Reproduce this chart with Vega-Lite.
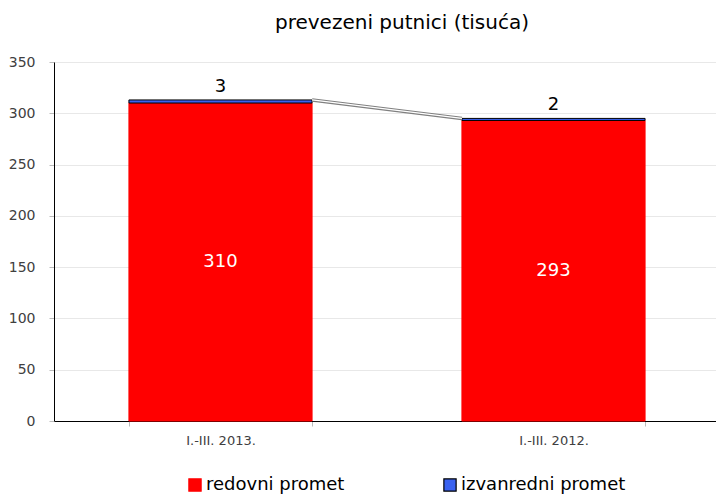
{
  "$schema": "https://vega.github.io/schema/vega-lite/v6.json",
  "autosize": "none",
  "width": 666,
  "height": 359,
  "padding": {"left": 54, "top": 62, "right": 0, "bottom": 76},
  "background": "white",
  "title": {"text": "prevezeni putnici (tisuća)", "fontSize": 20, "font": "DejaVu Sans", "fontWeight": "normal", "color": "#000000", "offset": 22, "dx": 15},
  "config": {"view": {"stroke": null}, "font": "DejaVu Sans"},
  "data": {"values": [
    {"period": "I.-III. 2013.", "type": "redovni  promet", "value": 310},
    {"period": "I.-III. 2013.", "type": "izvanredni promet", "value": 3},
    {"period": "I.-III. 2012.", "type": "redovni  promet", "value": 293},
    {"period": "I.-III. 2012.", "type": "izvanredni promet", "value": 2}
  ]},
  "encoding": {
    "x": {"field": "period", "type": "nominal", "sort": ["I.-III. 2013.", "I.-III. 2012."],
      "scale": {"paddingInner": 0.45, "paddingOuter": 0.225},
      "axis": {"title": null, "labelAngle": 0, "labelFontSize": 13, "labelColor": "#404040", "labelPadding": 8, "domainColor": "#000000", "tickBand": "extent", "tickColor": "#bbbbbb", "tickSize": 5, "grid": false}}
  },
  "layer": [
    {
      "mark": {"type": "bar", "strokeWidth": 1},
      "encoding": {
        "y": {"field": "value", "type": "quantitative", "aggregate": "sum", "stack": "zero",
          "scale": {"domain": [0, 350], "nice": false},
          "axis": {"title": null, "values": [0, 50, 100, 150, 200, 250, 300, 350], "labelFontSize": 14, "labelColor": "#404040", "labelPadding": 14, "tickSize": 5, "tickColor": "#bbbbbb", "domainColor": "#000000", "gridColor": "#e8e8e8"}},
        "color": {"field": "type", "type": "nominal", "title": null,
          "scale": {"domain": ["redovni  promet", "izvanredni promet"], "range": ["#ff0000", "#3a62f0"]},
          "legend": {"orient": "none", "legendX": 132, "legendY": 414, "direction": "horizontal", "columns": 2, "symbolType": "square", "symbolSize": 150, "symbolStrokeWidth": 1.2, "labelFontSize": 18, "labelColor": "#000000", "labelOffset": 2, "columnPadding": 90, "labelLimit": 300}},
        "stroke": {"field": "type", "type": "nominal", "title": null,
          "scale": {"domain": ["redovni  promet", "izvanredni promet"], "range": ["#ff0000", "#000000"]}},
        "order": {"field": "type", "sort": "descending"}
      }
    },
    {
      "transform": [
        {"stack": "value", "groupby": ["period"], "sort": [{"field": "type", "order": "descending"}], "as": ["v0", "v1"]},
        {"filter": "datum.type === 'redovni  promet'"},
        {"fold": ["v0", "v1"], "as": ["key", "val"]}
      ],
      "mark": {"type": "text", "color": "white", "fontSize": 18, "baseline": "middle"},
      "encoding": {
        "y": {"field": "val", "type": "quantitative", "aggregate": "mean"},
        "text": {"field": "value", "type": "quantitative", "aggregate": "max"}
      }
    },
    {
      "transform": [
        {"stack": "value", "groupby": ["period"], "sort": [{"field": "type", "order": "descending"}], "as": ["v0", "v1"]},
        {"filter": "datum.type === 'izvanredni promet'"}
      ],
      "mark": {"type": "text", "color": "black", "fontSize": 18, "baseline": "bottom", "dy": -4},
      "encoding": {
        "y": {"field": "v1", "type": "quantitative"},
        "text": {"field": "value", "type": "quantitative"}
      }
    },
    {
      "transform": [
        {"stack": "value", "groupby": ["period"], "sort": [{"field": "type", "order": "descending"}], "as": ["v0", "v1"]},
        {"filter": "datum.type === 'izvanredni promet'"},
        {"pivot": "period", "value": "v1"}
      ],
      "layer": [
        {"mark": {"type": "rule", "color": "#808080", "strokeWidth": 3.5}},
        {"mark": {"type": "rule", "color": "#ffffff", "strokeWidth": 1.3}}
      ],
      "encoding": {
        "x": {"datum": "I.-III. 2013.", "bandPosition": 1},
        "x2": {"datum": "I.-III. 2012.", "bandPosition": 0},
        "y": {"field": "I\\.-III\\. 2013\\.", "type": "quantitative"},
        "y2": {"field": "I\\.-III\\. 2012\\."}
      }
    }
  ]
}
